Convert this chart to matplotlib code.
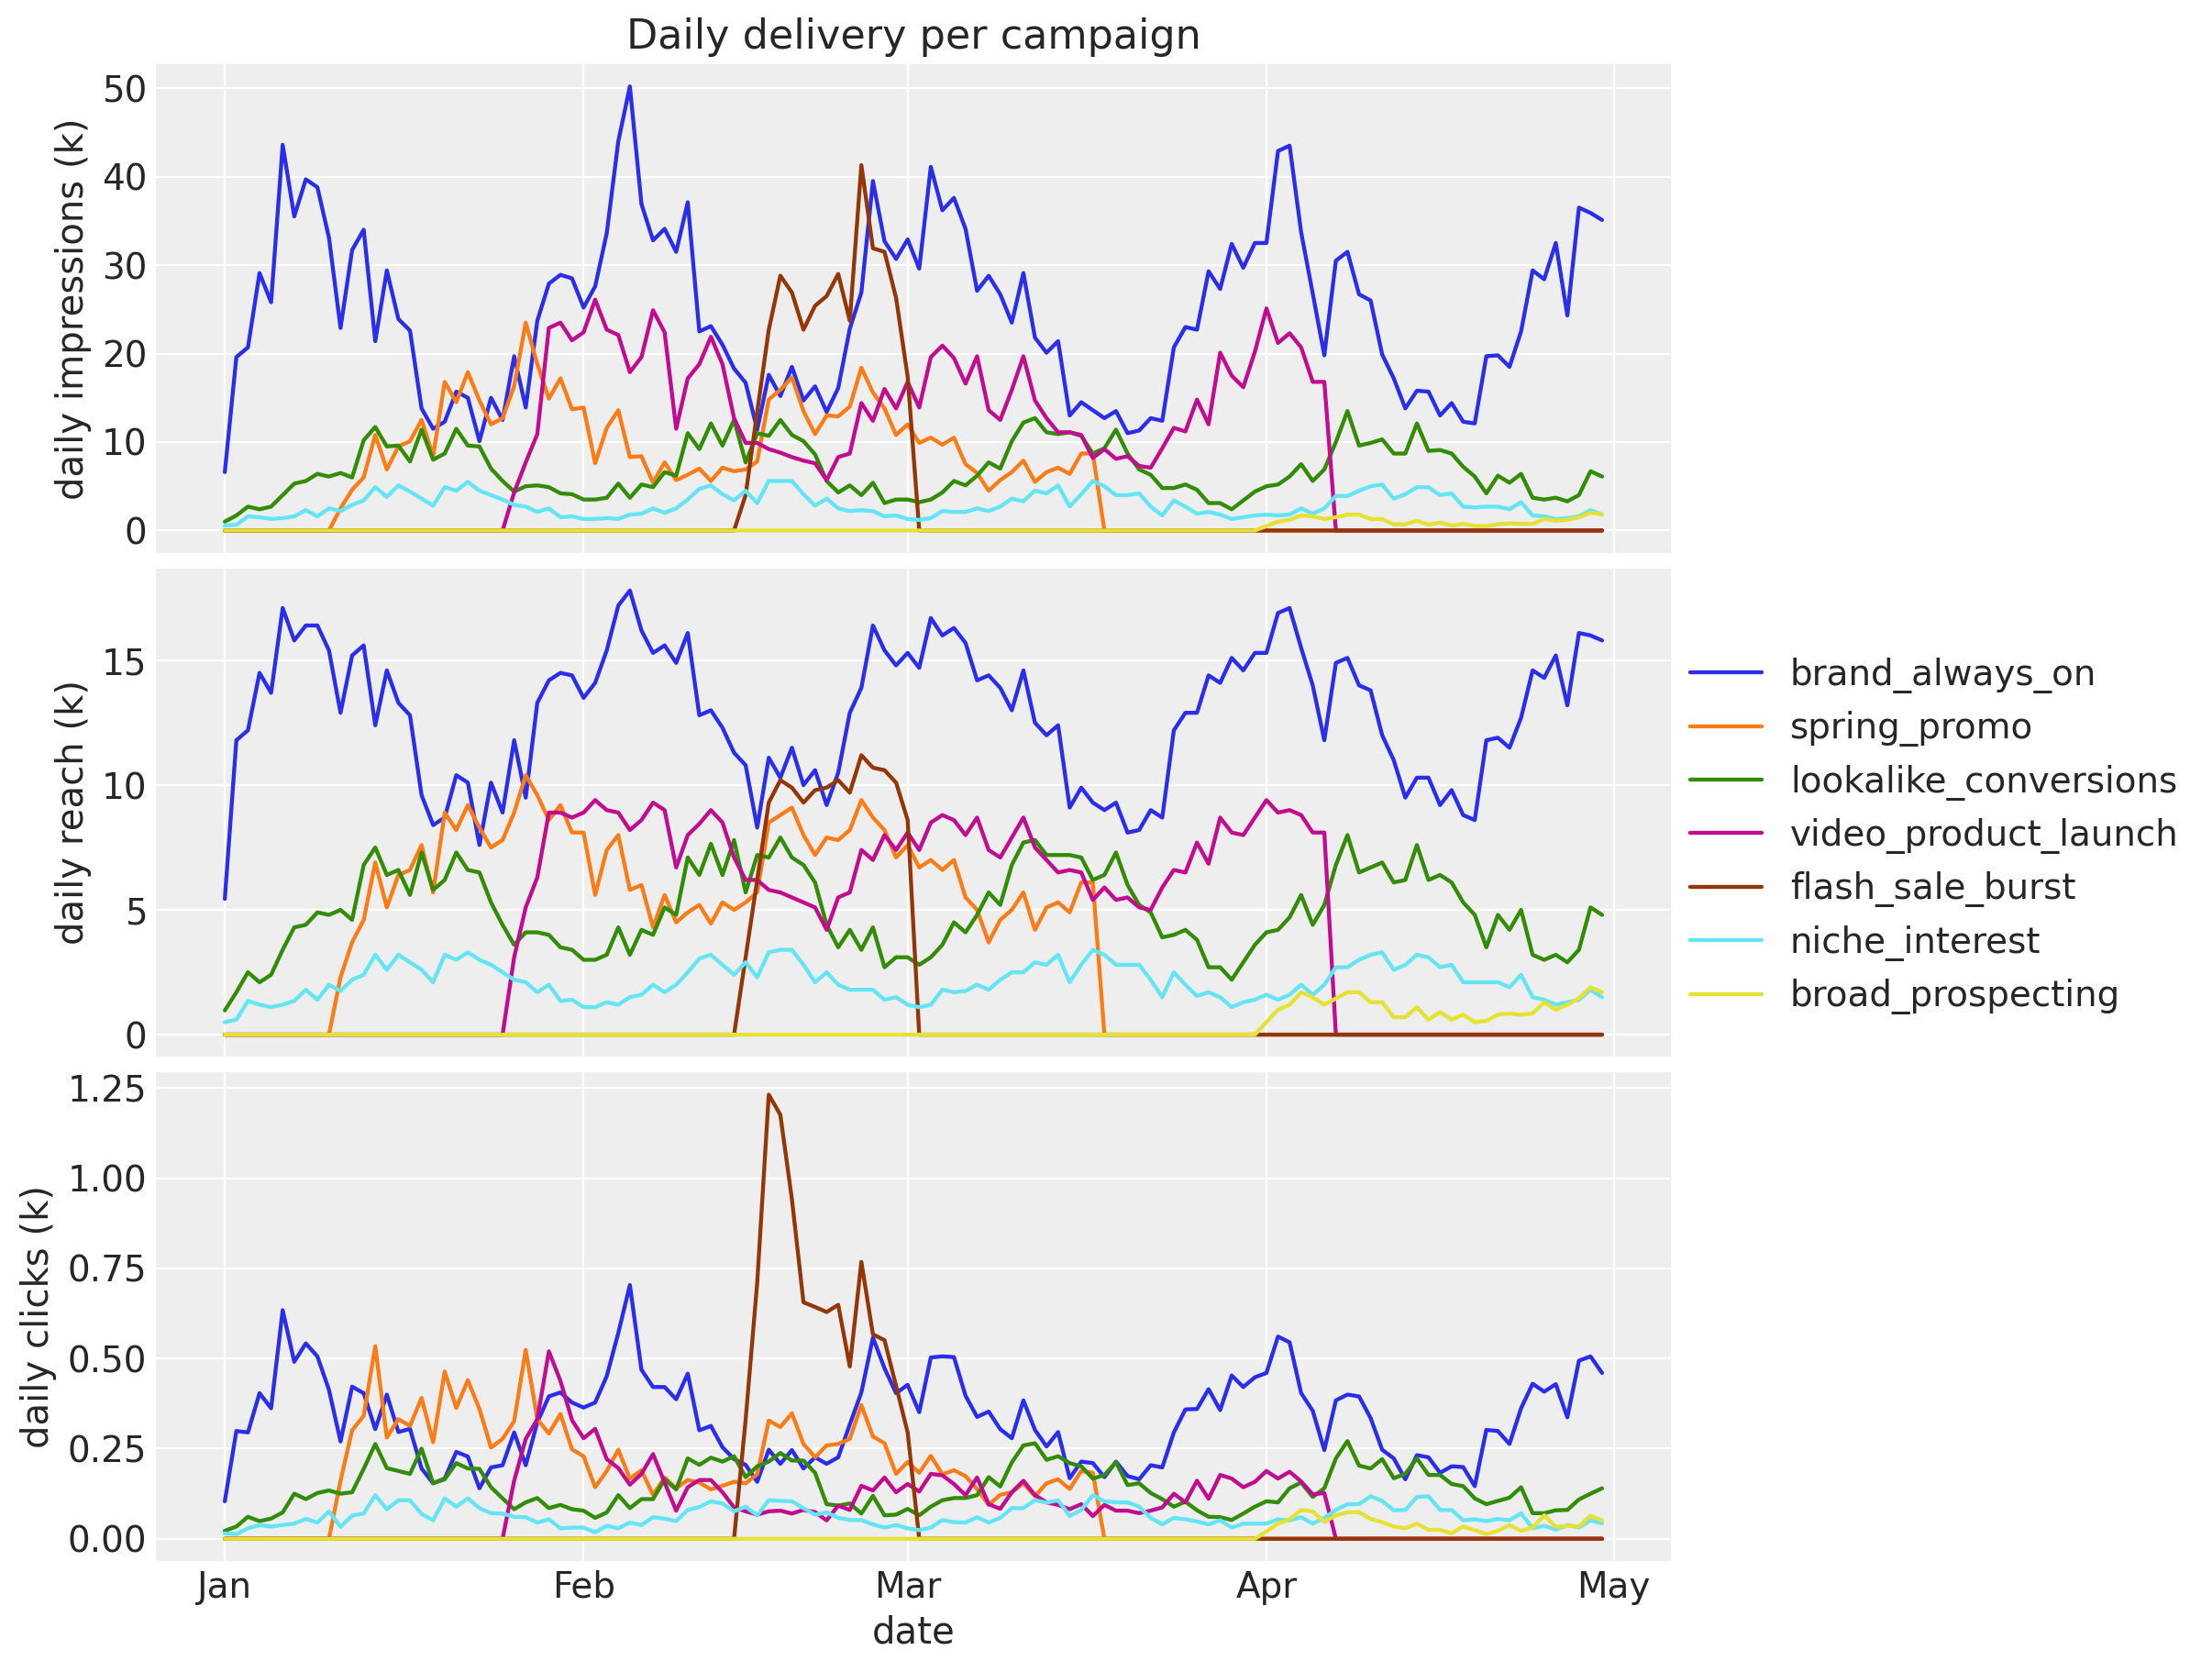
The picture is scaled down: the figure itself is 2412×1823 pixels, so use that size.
import pandas as pd
import matplotlib
matplotlib.use("Agg")
import matplotlib.pyplot as plt
import matplotlib.dates as mdates

# 120 days, Jan 1 .. Apr 30
dates = pd.date_range("2025-01-01", "2025-04-30", freq="D")

campaigns = ["brand_always_on", "spring_promo", "lookalike_conversions",
             "video_product_launch", "flash_sale_burst", "niche_interest",
             "broad_prospecting"]
colors = ["#2a2eec", "#fa7c17", "#328c06", "#c10c90", "#933708", "#65e5f3", "#e6e135"]

# ---- daily impressions (k) ----
brand_imp = [6.6, 19.6, 20.7, 29.1, 25.8, 43.6, 35.5, 39.7, 38.8, 33.1,
             22.9, 31.7, 34.0, 21.4, 29.4, 23.9, 22.6, 13.8, 11.5, 12.3,
             15.7, 15.0, 10.1, 15.0, 12.5, 19.7, 13.9, 23.7, 27.9, 28.9,
             28.5, 25.2, 27.6, 33.6, 44.0, 50.2, 36.9, 32.8, 34.1, 31.5,
             37.1, 22.5, 23.1, 21.0, 18.3, 16.7, 11.4, 17.6, 15.2, 18.5,
             14.7, 16.3, 13.4, 16.1, 22.8, 26.9, 39.5, 32.7, 30.7, 32.9,
             29.6, 41.1, 36.2, 37.6, 34.1, 27.1, 28.8, 26.7, 23.5, 29.1,
             21.8, 20.1, 21.4, 13.0, 14.5, 13.6, 12.7, 13.5, 11.0, 11.3,
             12.7, 12.4, 20.7, 23.0, 22.7, 29.3, 27.3, 32.4, 29.7, 32.5,
             32.5, 42.9, 43.5, 33.7, 26.8, 19.8, 30.5, 31.5, 26.7, 26.0,
             19.9, 17.2, 13.8, 15.8, 15.7, 13.0, 14.4, 12.3, 12.1, 19.7,
             19.8, 18.5, 22.5, 29.4, 28.4, 32.5, 24.3, 36.5, 35.9, 35.1]
spring_imp = [0.0] * 10 + [
    2.5, 4.6, 6.0, 10.8, 6.9, 9.5, 10.1, 12.5, 8.4, 16.8,
    14.5, 17.9, 14.7, 12.0, 12.7, 16.3, 23.5, 18.8, 14.9, 17.2,
    13.7, 13.9, 7.6, 11.6, 13.6, 8.3, 8.4, 5.4, 7.7, 5.7,
    6.3, 7.0, 5.6, 7.1, 6.7, 6.9, 7.8, 14.8, 15.9, 17.3,
    13.5, 10.9, 13.0, 12.9, 14.0, 18.4, 15.6, 13.8, 10.8, 12.0,
    9.9, 10.5, 9.7, 10.5, 7.5, 6.5, 4.5, 5.7, 6.6, 7.9,
    5.5, 6.6, 7.1, 6.4, 8.7, 8.7] + [0.0] * 44
lookalike_imp = [1.0, 1.7, 2.7, 2.4, 2.7, 4.0, 5.3, 5.6, 6.4, 6.1,
                 6.5, 6.0, 10.2, 11.7, 9.5, 9.6, 7.8, 11.4, 8.0, 8.7,
                 11.5, 9.6, 9.5, 7.0, 5.6, 4.4, 5.0, 5.1, 4.9, 4.2,
                 4.1, 3.5, 3.5, 3.7, 5.3, 3.7, 5.2, 4.9, 6.6, 6.2,
                 11.0, 9.2, 12.1, 9.6, 12.5, 7.7, 11.0, 10.7, 12.5, 10.8,
                 10.1, 8.6, 5.6, 4.3, 5.1, 4.0, 5.4, 3.1, 3.5, 3.5,
                 3.2, 3.5, 4.3, 5.6, 5.1, 6.2, 7.7, 7.0, 10.1, 12.2,
                 12.7, 11.1, 10.9, 11.1, 10.7, 8.7, 9.3, 11.4, 8.7, 6.9,
                 6.3, 4.8, 4.8, 5.2, 4.6, 3.1, 3.1, 2.4, 3.4, 4.4,
                 5.0, 5.2, 6.1, 7.5, 5.6, 6.9, 10.0, 13.5, 9.6, 9.9,
                 10.3, 8.7, 8.7, 12.1, 9.0, 9.1, 8.7, 7.2, 6.1, 4.2,
                 6.2, 5.4, 6.4, 3.7, 3.5, 3.7, 3.3, 4.0, 6.7, 6.1]
video_imp = [0.0] * 25 + [
    4.3, 7.7, 10.9, 22.9, 23.5, 21.5, 22.4, 26.1, 22.7, 22.1,
    17.9, 19.6, 24.9, 22.4, 11.5, 17.2, 18.8, 21.9, 18.8, 12.7,
    9.9, 9.9, 9.2, 8.8, 8.3, 7.9, 7.6, 5.7, 8.3, 8.7,
    14.4, 12.4, 16.0, 13.8, 16.8, 13.9, 19.6, 20.9, 19.5, 16.6,
    19.7, 13.6, 12.5, 15.9, 19.7, 14.7, 12.7, 11.1, 11.1, 10.8,
    8.2, 9.2, 8.1, 8.4, 7.3, 7.1, 9.3, 11.6, 11.2, 14.8,
    12.0, 20.1, 17.5, 16.2, 20.2, 25.1, 21.2, 22.3, 20.7, 16.8,
    16.8] + [0.0] * 24
flash_imp = [0.0] * 45 + [
    4.0, 13.4, 22.7, 28.8, 26.9, 22.7, 25.4, 26.5, 29.0, 23.7,
    41.3, 31.9, 31.5, 26.3, 17.4] + [0.0] * 60
niche_imp = [0.55, 0.65, 1.6, 1.5, 1.3, 1.4, 1.6, 2.3, 1.6, 2.5,
             2.2, 2.9, 3.4, 4.9, 3.8, 5.1, 4.4, 3.6, 2.8, 4.9,
             4.5, 5.5, 4.5, 4.0, 3.5, 2.9, 2.7, 2.1, 2.5, 1.5,
             1.6, 1.3, 1.3, 1.4, 1.3, 1.8, 1.9, 2.5, 2.0, 2.5,
             3.5, 4.7, 5.1, 4.1, 3.4, 4.5, 3.1, 5.6, 5.6, 5.6,
             4.1, 2.8, 3.6, 2.5, 2.2, 2.3, 2.2, 1.6, 1.7, 1.3,
             1.2, 1.4, 2.2, 2.1, 2.1, 2.5, 2.2, 2.7, 3.6, 3.3,
             4.5, 4.2, 5.1, 2.7, 4.1, 5.6, 5.0, 4.0, 4.0, 4.2,
             2.7, 1.7, 3.4, 2.7, 1.9, 2.1, 1.8, 1.3, 1.5, 1.7,
             1.8, 1.7, 1.8, 2.5, 1.9, 2.5, 3.9, 3.9, 4.5, 5.0,
             5.2, 3.6, 4.1, 4.9, 4.9, 4.0, 4.2, 2.7, 2.6, 2.7,
             2.7, 2.4, 3.2, 1.7, 1.6, 1.3, 1.4, 1.6, 2.3, 1.8]
broad_imp = [0.0] * 90 + [
    0.5, 1.0, 1.2, 1.7, 1.6, 1.3, 1.5, 1.8, 1.8, 1.3,
    1.3, 0.7, 0.7, 1.1, 0.65, 0.9, 0.55, 0.75, 0.5, 0.5,
    0.7, 0.8, 0.75, 0.75, 1.3, 1.1, 1.2, 1.5, 2.0, 1.85]

# ---- daily reach (k) ----
brand_reach = [5.44, 11.8, 12.2, 14.5, 13.7, 17.1, 15.8, 16.4, 16.4, 15.4,
               12.9, 15.2, 15.6, 12.4, 14.6, 13.3, 12.8, 9.6, 8.4, 8.7,
               10.4, 10.1, 7.6, 10.1, 8.9, 11.8, 9.5, 13.3, 14.2, 14.5,
               14.4, 13.5, 14.1, 15.4, 17.2, 17.8, 16.2, 15.3, 15.6, 14.9,
               16.1, 12.8, 13.0, 12.3, 11.3, 10.8, 8.3, 11.1, 10.3, 11.5,
               10.0, 10.6, 9.2, 10.5, 12.9, 13.9, 16.4, 15.4, 14.8, 15.3,
               14.7, 16.7, 16.0, 16.3, 15.7, 14.2, 14.4, 13.9, 13.0, 14.6,
               12.5, 12.0, 12.4, 9.1, 9.9, 9.3, 9.0, 9.3, 8.1, 8.2,
               9.0, 8.7, 12.2, 12.9, 12.9, 14.4, 14.1, 15.1, 14.6, 15.3,
               15.3, 16.9, 17.1, 15.5, 14.0, 11.8, 14.9, 15.1, 14.0, 13.8,
               12.0, 11.0, 9.5, 10.3, 10.3, 9.2, 9.8, 8.8, 8.6, 11.8,
               11.9, 11.5, 12.7, 14.6, 14.3, 15.2, 13.2, 16.1, 16.0, 15.8]
spring_reach = [0.0] * 10 + [
    2.3, 3.7, 4.6, 6.9, 5.1, 6.4, 6.6, 7.6, 5.7, 8.9,
    8.2, 9.2, 8.3, 7.5, 7.8, 8.9, 10.4, 9.6, 8.6, 9.2,
    8.1, 8.1, 5.6, 7.4, 8.0, 5.8, 6.0, 4.3, 5.6, 4.5,
    4.9, 5.2, 4.45, 5.3, 5.0, 5.3, 5.7, 8.5, 8.8, 9.1,
    8.0, 7.2, 7.9, 7.8, 8.2, 9.4, 8.7, 8.2, 7.1, 7.6,
    6.7, 7.0, 6.6, 7.0, 5.5, 5.0, 3.7, 4.6, 5.0, 5.7,
    4.2, 5.1, 5.3, 4.9, 6.1, 6.1] + [0.0] * 44
lookalike_reach = [0.97, 1.7, 2.5, 2.1, 2.4, 3.4, 4.3, 4.4, 4.9, 4.8,
                   5.0, 4.6, 6.8, 7.5, 6.4, 6.6, 5.6, 7.3, 5.8, 6.2,
                   7.3, 6.6, 6.5, 5.3, 4.4, 3.6, 4.1, 4.1, 4.0, 3.5,
                   3.4, 3.0, 3.0, 3.2, 4.3, 3.2, 4.2, 4.0, 5.1, 4.8,
                   7.1, 6.4, 7.65, 6.4, 7.8, 5.7, 7.2, 7.1, 7.9, 7.1,
                   6.8, 6.1, 4.4, 3.5, 4.2, 3.4, 4.3, 2.7, 3.1, 3.1,
                   2.8, 3.1, 3.6, 4.5, 4.1, 4.8, 5.7, 5.2, 6.8, 7.7,
                   7.8, 7.2, 7.2, 7.2, 7.1, 6.2, 6.4, 7.3, 6.0, 5.2,
                   4.9, 3.9, 4.0, 4.2, 3.8, 2.7, 2.7, 2.2, 2.9, 3.6,
                   4.1, 4.2, 4.7, 5.6, 4.4, 5.2, 6.8, 8.0, 6.5, 6.7,
                   6.9, 6.1, 6.2, 7.6, 6.2, 6.4, 6.1, 5.3, 4.8, 3.5,
                   4.8, 4.2, 5.0, 3.2, 3.0, 3.2, 2.9, 3.4, 5.1, 4.8]
video_reach = [0.0] * 25 + [
    3.1, 5.1, 6.3, 8.9, 8.9, 8.7, 8.9, 9.4, 9.0, 8.9,
    8.2, 8.6, 9.3, 9.0, 6.7, 8.0, 8.45, 9.0, 8.5, 7.1,
    6.2, 6.2, 5.8, 5.7, 5.5, 5.3, 5.1, 4.2, 5.5, 5.7,
    7.4, 7.0, 8.0, 7.4, 8.1, 7.4, 8.5, 8.8, 8.6, 8.0,
    8.7, 7.4, 7.1, 7.9, 8.7, 7.5, 7.0, 6.5, 6.6, 6.5,
    5.4, 5.9, 5.4, 5.5, 5.1, 5.0, 5.9, 6.6, 6.5, 7.7,
    6.85, 8.7, 8.1, 8.0, 8.7, 9.4, 8.9, 9.0, 8.8, 8.1,
    8.1] + [0.0] * 24
flash_reach = [0.0] * 45 + [
    3.1, 6.2, 9.3, 10.2, 9.9, 9.3, 9.8, 9.9, 10.2, 9.7,
    11.2, 10.7, 10.6, 10.1, 8.6] + [0.0] * 60
niche_reach = [0.5, 0.6, 1.35, 1.2, 1.1, 1.2, 1.35, 1.8, 1.4, 2.0,
               1.75, 2.2, 2.4, 3.2, 2.6, 3.2, 2.9, 2.6, 2.1, 3.2,
               3.0, 3.3, 3.0, 2.8, 2.5, 2.2, 2.1, 1.7, 2.0, 1.35,
               1.4, 1.1, 1.1, 1.3, 1.2, 1.5, 1.6, 2.0, 1.7, 2.0,
               2.5, 3.05, 3.2, 2.8, 2.4, 2.9, 2.3, 3.3, 3.4, 3.4,
               2.8, 2.1, 2.5, 2.0, 1.8, 1.8, 1.8, 1.4, 1.5, 1.2,
               1.1, 1.2, 1.8, 1.7, 1.75, 2.0, 1.8, 2.2, 2.5, 2.5,
               2.9, 2.8, 3.2, 2.1, 2.8, 3.4, 3.2, 2.8, 2.8, 2.8,
               2.2, 1.5, 2.5, 2.0, 1.55, 1.7, 1.5, 1.1, 1.3, 1.4,
               1.6, 1.4, 1.6, 2.0, 1.6, 2.0, 2.7, 2.7, 3.0, 3.2,
               3.3, 2.6, 2.8, 3.2, 3.1, 2.7, 2.8, 2.1, 2.1, 2.1,
               2.1, 1.9, 2.4, 1.5, 1.4, 1.2, 1.3, 1.4, 1.8, 1.5]
broad_reach = [0.0] * 90 + [
    0.5, 1.0, 1.2, 1.7, 1.5, 1.2, 1.45, 1.7, 1.7, 1.3,
    1.3, 0.7, 0.7, 1.1, 0.6, 0.9, 0.6, 0.8, 0.5, 0.55,
    0.8, 0.85, 0.8, 0.85, 1.3, 1.0, 1.2, 1.45, 1.9, 1.7]

# ---- daily clicks (k) ----
brand_clk = [0.104, 0.299, 0.295, 0.404, 0.362, 0.634, 0.491, 0.542, 0.506, 0.413,
             0.270, 0.422, 0.404, 0.304, 0.400, 0.296, 0.305, 0.195, 0.154, 0.167,
             0.241, 0.228, 0.140, 0.198, 0.204, 0.295, 0.204, 0.323, 0.395, 0.406,
             0.378, 0.364, 0.378, 0.451, 0.571, 0.704, 0.469, 0.421, 0.421, 0.387,
             0.458, 0.301, 0.313, 0.254, 0.221, 0.205, 0.158, 0.247, 0.208, 0.246,
             0.195, 0.226, 0.208, 0.226, 0.317, 0.406, 0.558, 0.473, 0.404, 0.427,
             0.351, 0.503, 0.506, 0.504, 0.397, 0.338, 0.353, 0.304, 0.279, 0.384,
             0.302, 0.256, 0.296, 0.168, 0.214, 0.210, 0.171, 0.214, 0.174, 0.165,
             0.204, 0.198, 0.295, 0.359, 0.360, 0.415, 0.357, 0.453, 0.421, 0.448,
             0.460, 0.561, 0.545, 0.404, 0.355, 0.246, 0.384, 0.400, 0.395, 0.335,
             0.247, 0.223, 0.165, 0.232, 0.226, 0.183, 0.201, 0.199, 0.146, 0.302,
             0.299, 0.263, 0.362, 0.430, 0.408, 0.429, 0.337, 0.494, 0.506, 0.460]
spring_clk = [0.0] * 10 + [
    0.161, 0.301, 0.341, 0.534, 0.281, 0.332, 0.313, 0.391, 0.268, 0.464,
    0.363, 0.440, 0.360, 0.253, 0.277, 0.326, 0.524, 0.332, 0.292, 0.346,
    0.248, 0.229, 0.143, 0.188, 0.247, 0.167, 0.190, 0.122, 0.170, 0.140,
    0.163, 0.156, 0.137, 0.147, 0.158, 0.154, 0.179, 0.328, 0.310, 0.348,
    0.263, 0.226, 0.259, 0.263, 0.277, 0.371, 0.284, 0.265, 0.180, 0.213,
    0.183, 0.230, 0.179, 0.190, 0.174, 0.138, 0.094, 0.122, 0.129, 0.154,
    0.118, 0.154, 0.165, 0.138, 0.188, 0.183] + [0.0] * 44
lookalike_clk = [0.022, 0.034, 0.061, 0.049, 0.056, 0.073, 0.125, 0.110, 0.127, 0.134,
                 0.125, 0.129, 0.194, 0.263, 0.196, 0.188, 0.180, 0.250, 0.154, 0.165,
                 0.210, 0.195, 0.194, 0.143, 0.112, 0.082, 0.101, 0.113, 0.085, 0.094,
                 0.082, 0.078, 0.058, 0.073, 0.121, 0.085, 0.110, 0.110, 0.165, 0.137,
                 0.223, 0.205, 0.225, 0.214, 0.229, 0.171, 0.201, 0.214, 0.238, 0.217,
                 0.217, 0.183, 0.096, 0.092, 0.098, 0.070, 0.119, 0.065, 0.067, 0.083,
                 0.065, 0.089, 0.107, 0.113, 0.113, 0.121, 0.171, 0.145, 0.212, 0.259,
                 0.265, 0.219, 0.229, 0.210, 0.201, 0.167, 0.177, 0.212, 0.149, 0.154,
                 0.127, 0.110, 0.089, 0.103, 0.079, 0.061, 0.060, 0.052, 0.070, 0.089,
                 0.104, 0.101, 0.140, 0.156, 0.116, 0.140, 0.223, 0.271, 0.203, 0.195,
                 0.221, 0.168, 0.180, 0.223, 0.177, 0.177, 0.152, 0.146, 0.112, 0.096,
                 0.105, 0.114, 0.143, 0.071, 0.071, 0.079, 0.080, 0.109, 0.125, 0.140]
video_clk = [0.0] * 25 + [
    0.161, 0.277, 0.332, 0.520, 0.438, 0.329, 0.279, 0.305, 0.221, 0.196,
    0.150, 0.180, 0.235, 0.156, 0.078, 0.143, 0.163, 0.163, 0.129, 0.087,
    0.076, 0.067, 0.076, 0.078, 0.070, 0.080, 0.074, 0.051, 0.092, 0.080,
    0.147, 0.134, 0.170, 0.129, 0.152, 0.131, 0.180, 0.176, 0.152, 0.121,
    0.170, 0.096, 0.083, 0.129, 0.161, 0.121, 0.101, 0.094, 0.082, 0.096,
    0.063, 0.094, 0.078, 0.078, 0.071, 0.078, 0.087, 0.125, 0.101, 0.161,
    0.111, 0.177, 0.167, 0.143, 0.158, 0.188, 0.167, 0.186, 0.159, 0.123,
    0.127] + [0.0] * 24
flash_clk = [0.0] * 45 + [
    0.33, 0.710, 1.232, 1.176, 0.942, 0.656, 0.643, 0.629, 0.649, 0.478,
    0.768, 0.567, 0.551, 0.424, 0.295] + [0.0] * 60
niche_clk = [0.015, 0.013, 0.029, 0.038, 0.034, 0.038, 0.042, 0.055, 0.045, 0.076,
             0.033, 0.064, 0.070, 0.121, 0.082, 0.107, 0.107, 0.069, 0.051, 0.112,
             0.089, 0.112, 0.085, 0.071, 0.070, 0.061, 0.060, 0.045, 0.054, 0.029,
             0.031, 0.031, 0.018, 0.036, 0.029, 0.045, 0.038, 0.060, 0.056, 0.049,
             0.080, 0.088, 0.104, 0.098, 0.076, 0.089, 0.065, 0.107, 0.105, 0.104,
             0.085, 0.067, 0.073, 0.058, 0.052, 0.052, 0.040, 0.031, 0.038, 0.029,
             0.024, 0.031, 0.052, 0.046, 0.045, 0.060, 0.045, 0.058, 0.085, 0.085,
             0.107, 0.100, 0.107, 0.063, 0.080, 0.121, 0.104, 0.101, 0.101, 0.089,
             0.058, 0.040, 0.058, 0.054, 0.048, 0.040, 0.051, 0.031, 0.042, 0.042,
             0.042, 0.054, 0.051, 0.060, 0.042, 0.058, 0.080, 0.096, 0.096, 0.118,
             0.105, 0.079, 0.080, 0.116, 0.118, 0.080, 0.080, 0.051, 0.054, 0.049,
             0.055, 0.051, 0.071, 0.029, 0.036, 0.025, 0.038, 0.031, 0.051, 0.043]
broad_clk = [0.0] * 90 + [
    0.020, 0.042, 0.054, 0.080, 0.076, 0.047, 0.065, 0.073, 0.074, 0.055,
    0.046, 0.034, 0.029, 0.042, 0.025, 0.025, 0.015, 0.034, 0.024, 0.013,
    0.022, 0.038, 0.022, 0.031, 0.065, 0.033, 0.036, 0.034, 0.064, 0.051]

panels = [
    ("daily impressions (k)", [brand_imp, spring_imp, lookalike_imp, video_imp,
                               flash_imp, niche_imp, broad_imp]),
    ("daily reach (k)", [brand_reach, spring_reach, lookalike_reach, video_reach,
                         flash_reach, niche_reach, broad_reach]),
    ("daily clicks (k)", [brand_clk, spring_clk, lookalike_clk, video_clk,
                          flash_clk, niche_clk, broad_clk]),
]

# arviz-darkgrid look
plt.rcParams.update({
    "font.family": ["DejaVu Sans"],
    "text.color": "#262626",
    "axes.labelcolor": "#262626",
    "xtick.color": "#262626",
    "ytick.color": "#262626",
    "axes.facecolor": "#eeeeee",
    "axes.grid": True,
    "axes.axisbelow": True,
    "grid.color": "white",
    "grid.linewidth": 0.8,
    "axes.spines.left": False,
    "axes.spines.right": False,
    "axes.spines.top": False,
    "axes.spines.bottom": False,
    "xtick.major.size": 0,
    "ytick.major.size": 0,
    "xtick.labelsize": 14,
    "ytick.labelsize": 14,
    "axes.labelsize": 14.5,
    "axes.titlesize": 16,
    "legend.fontsize": 14,
    "lines.linewidth": 1.55,
    "lines.solid_capstyle": "round",
})

fig, axes = plt.subplots(3, 1, sharex=True, figsize=(12.06, 9.115), dpi=200)
fig.subplots_adjust(left=0.0705, right=0.7554, top=0.9616, bottom=0.0664, hspace=0.032)

for ax, (ylabel, series) in zip(axes, panels):
    for name, color, values in zip(campaigns, colors, series):
        ax.plot(dates, values, color=color, label=name)
    ax.set_ylabel(ylabel)

axes[0].set_title("Daily delivery per campaign")
axes[2].set_xlabel("date")
axes[2].xaxis.set_major_locator(mdates.MonthLocator())
axes[2].xaxis.set_major_formatter(mdates.DateFormatter("%b"))

handles, labels = axes[0].get_legend_handles_labels()
fig.legend(handles, labels, loc="center left", bbox_to_anchor=(0.7496, 0.5),
           frameon=False)

fig.savefig("out.png", dpi=200)
